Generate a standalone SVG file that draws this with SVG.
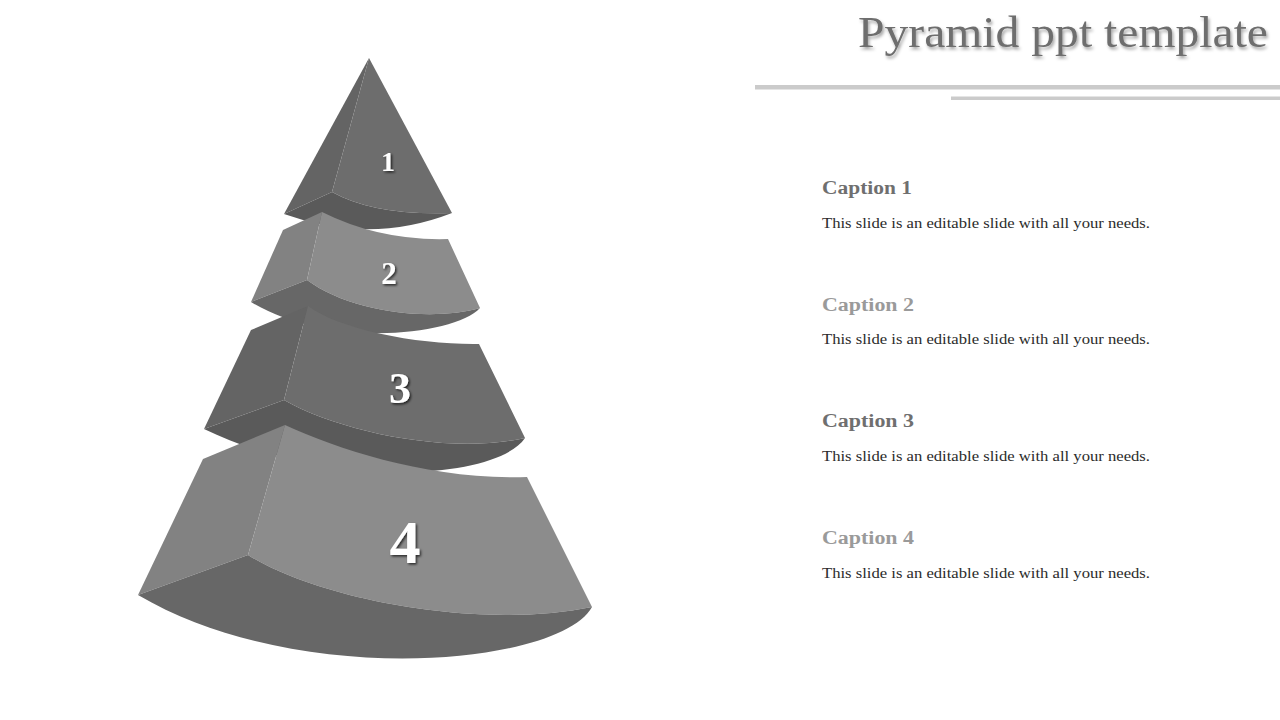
<svg xmlns="http://www.w3.org/2000/svg" width="1280" height="720" viewBox="0 0 1280 720">
<defs>
<filter id="tshadow" x="-10%" y="-30%" width="130%" height="170%">
<feDropShadow dx="1.5" dy="2.5" stdDeviation="1.5" flood-color="#000" flood-opacity="0.35"/>
</filter>
<filter id="nshadow" x="-30%" y="-30%" width="160%" height="160%">
<feDropShadow dx="1.5" dy="1.5" stdDeviation="0.8" flood-color="#000" flood-opacity="0.7"/>
</filter>
<style>
.dkF{fill:#6d6d6d}
.dkL{fill:#646464}
.dkB{fill:#5a5a5a}
.ltF{fill:#8c8c8c}
.ltL{fill:#828282}
.ltB{fill:#676767}
.num{font-family:"Liberation Serif","Times New Roman",serif;font-weight:bold;fill:#ffffff;text-anchor:middle;filter:url(#nshadow)}
.cap{font-family:"Liberation Serif","Times New Roman",serif;font-weight:bold;font-size:18px}
.cap1{fill:#6f6f6f}
.cap2{fill:#9a9a9a}
.body{font-family:"Liberation Serif","Times New Roman",serif;font-size:15.5px;fill:#2b2b2b}
.rule{fill:#cbcbcb}
</style>
</defs>
<rect width="1280" height="720" fill="#ffffff"/>

<g id="title">
<text x="858" y="47" font-family="'Liberation Serif','Times New Roman',serif" font-size="44" fill="#6e6e6e" textLength="410" lengthAdjust="spacingAndGlyphs" filter="url(#tshadow)">Pyramid ppt template</text>
<rect class="rule" x="755" y="85" width="525" height="4.5"/>
<rect class="rule" x="951" y="96.5" width="329" height="3.5"/>
</g>

<g id="piece1">
<path class="dkL" d="M369,58 L332,192 L284,214 Z"/>
<path class="dkF" d="M369,58 L452,213 Q375,216 332,192 Z"/>
<path class="dkB" d="M284,214 L332,192 Q375,216 452,213 Q370,245 284,214 Z"/>
<text class="num" x="388" y="171" font-size="28">1</text>
</g>

<g id="piece2">
<path class="ltL" d="M251,302 L283,230 L322,212 L307,280 Z"/>
<path class="ltF" d="M322,212 Q380,241 448,239 L480,308 C430,322 350,312 307,280 Z"/>
<path class="ltB" d="M251,302 L307,280 C350,312 430,322 480,308 C455,335 330,350 251,302 Z"/>
<text class="num" x="389" y="284" font-size="31">2</text>
</g>

<g id="piece3">
<path class="dkL" d="M204,429 L251,330 L308,306 L284,400 Z"/>
<path class="dkF" d="M308,306 C340,330 420,345 479,344 L525,438 C450,455 340,432 284,400 Z"/>
<path class="dkB" d="M204,429 L284,400 C340,432 450,455 525,438 C497,480 330,490 204,429 Z"/>
<text class="num" x="400" y="403" font-size="44">3</text>
</g>

<g id="piece4">
<path class="ltL" d="M138,595 L203,459 L285,425 L248,555 Z"/>
<path class="ltF" d="M285,425 C340,450 430,480 527,477 L592,607 C480,630 320,600 248,555 Z"/>
<path class="ltB" d="M138,595 L248,555 C320,600 480,630 592,607 C560,665 300,690 138,595 Z"/>
<text class="num" x="405" y="563" font-size="62">4</text>
</g>

<g id="caption1">
<text class="cap cap1" x="822" y="194" textLength="90" lengthAdjust="spacingAndGlyphs">Caption 1</text>
<text class="body" x="822" y="228" textLength="328" lengthAdjust="spacingAndGlyphs">This slide is an editable slide with all your needs.</text>
</g>
<g id="caption2">
<text class="cap cap2" x="822" y="311" textLength="92" lengthAdjust="spacingAndGlyphs">Caption 2</text>
<text class="body" x="822" y="344" textLength="328" lengthAdjust="spacingAndGlyphs">This slide is an editable slide with all your needs.</text>
</g>
<g id="caption3">
<text class="cap cap1" x="822" y="427" textLength="92" lengthAdjust="spacingAndGlyphs">Caption 3</text>
<text class="body" x="822" y="461" textLength="328" lengthAdjust="spacingAndGlyphs">This slide is an editable slide with all your needs.</text>
</g>
<g id="caption4">
<text class="cap cap2" x="822" y="544" textLength="92" lengthAdjust="spacingAndGlyphs">Caption 4</text>
<text class="body" x="822" y="578" textLength="328" lengthAdjust="spacingAndGlyphs">This slide is an editable slide with all your needs.</text>
</g>
</svg>
